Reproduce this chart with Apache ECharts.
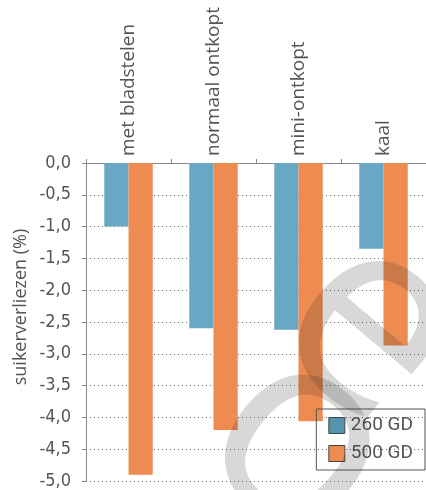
<!DOCTYPE html>
<html>
<head>
<meta charset="utf-8">
<script src="https://cdn.jsdelivr.net/npm/echarts@6/dist/echarts.min.js"></script>
<style>
  html, body { margin: 0; padding: 0; background: #fff; }
  #chart { width: 426px; height: 490px; }
</style>
</head>
<body>
<div id="chart"></div>
<script>
// Categories (beet topping types) and sugar losses in %
const categories = ['met bladstelen', 'normaal ontkopt', 'mini-ontkopt', 'kaal'];
const seriesNames = ['260 GD', '500 GD'];
const loss260 = [-1.0, -2.6, -2.62, -1.35];
const loss500 = [-4.9, -4.2, -4.06, -2.87];
const yTitle = 'suikerverliezen (%)';

const BLUE = '#68a8c4';
const BLUE_KEY = '#5893ae';
const ORANGE = '#ee8b51';
const TEXT = '#555';
const FONT = 'Roboto, "Open Sans", sans-serif';

const chart = echarts.init(document.getElementById('chart'));

function fmt(v) {
  return v.toFixed(1).replace('.', ',');
}

// large diagonal watermark glyphs
function mark(ch, x, y) {
  return {
    type: 'text',
    x: x,
    y: y,
    rotation: -40 * Math.PI / 180,
    z: 100,
    silent: true,
    style: {
      text: ch,
      font: '270px "Open Sans", sans-serif',
      fill: 'rgba(40,40,40,0.18)',
      align: 'center',
      verticalAlign: 'middle'
    }
  };
}

chart.setOption({
  animation: false,
  grid: { left: 86, width: 347, top: 163, bottom: 7, containLabel: false },
  legend: {
    orient: 'vertical',
    right: 1,
    bottom: 20,
    padding: [7, 12, 7, 12],
    itemGap: 9,
    itemWidth: 16,
    itemHeight: 16,
    borderColor: '#555',
    borderWidth: 1,
    icon: 'rect',
    textStyle: { color: TEXT, fontSize: 19, fontFamily: FONT, padding: [0, 0, 0, 1] },
    data: [
      { name: seriesNames[0], itemStyle: { color: BLUE_KEY, borderColor: '#444', borderWidth: 1 } },
      { name: seriesNames[1], itemStyle: { color: ORANGE, borderColor: '#444', borderWidth: 1 } }
    ]
  },
  xAxis: {
    type: 'category',
    position: 'top',
    data: categories,
    axisLine: { lineStyle: { color: '#888', width: 1 } },
    axisTick: { show: true, length: 4, lineStyle: { color: '#888' } },
    axisLabel: {
      rotate: 90,
      margin: 7,
      color: TEXT,
      fontSize: 19,
      fontFamily: '"Open Sans", sans-serif'
    }
  },
  yAxis: {
    type: 'value',
    min: -5,
    max: 0,
    interval: 0.5,
    axisLine: { show: true, lineStyle: { color: '#888', width: 1 } },
    axisTick: { show: true, length: 4, lineStyle: { color: '#888' } },
    axisLabel: {
      color: TEXT,
      fontSize: 18,
      margin: 15,
      fontFamily: '"Liberation Sans Narrow", "DejaVu Sans Condensed", Roboto, sans-serif',
      formatter: fmt
    },
    splitLine: {
      show: true,
      lineStyle: { color: '#666', type: [1, 3], width: 1 }
    }
  },
  series: [
    {
      name: seriesNames[0],
      type: 'bar',
      data: loss260,
      barGap: '0%',
      barCategoryGap: '43%',
      itemStyle: { color: BLUE }
    },
    {
      name: seriesNames[1],
      type: 'bar',
      data: loss500,
      itemStyle: { color: ORANGE }
    }
  ],
  graphic: [
    {
      // y-axis title
      type: 'text',
      x: 21,
      y: 307,
      rotation: Math.PI / 2,
      silent: true,
      style: {
        text: yTitle,
        font: '18px "Open Sans", sans-serif',
        fill: TEXT,
        align: 'center',
        verticalAlign: 'middle'
      }
    },
    mark('e', 370, 328),
    mark('o', 300, 445)
  ]
});
</script>
</body>
</html>
